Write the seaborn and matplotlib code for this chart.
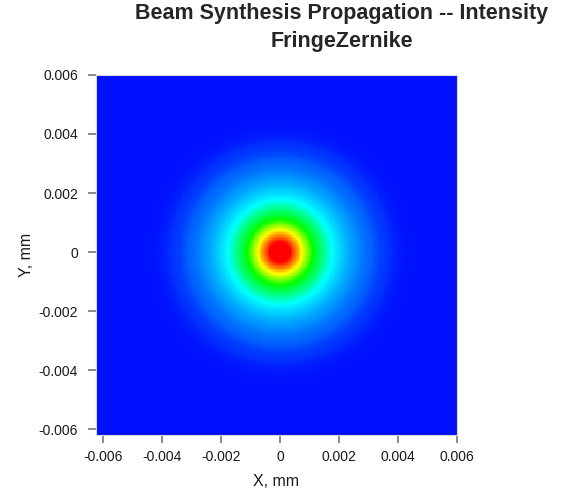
import numpy as np
import pandas as pd
import matplotlib
matplotlib.use("Agg")
import matplotlib.pyplot as plt
from matplotlib.colors import LinearSegmentedColormap
import seaborn as sns

# grid of the propagated field (mm)
x_min, x_max = -0.00624, 0.006
y_min, y_max = -0.0062, 0.006
n_cells = 256

# beam: centre and 1/e^2 radius (mm), estimated from the colour rings
beam_center = (0.0, 0.0)
beam_waist = 0.0021

tick_values = [-0.006, -0.004, -0.002, 0, 0.002, 0.004, 0.006]
tick_labels = ["-0.006", "-0.004", "-0.002", "0", "0.002", "0.004", "0.006"]

# colour stops of the intensity scale (relative intensity -> colour)
cmap_stops = [0.0, 0.0018, 0.011, 0.0455, 0.111, 0.231, 0.381, 0.567, 0.777, 0.889, 0.949, 1.0]
cmap_colors = ["#0010ff", "#0030ff", "#0060ff", "#0090ff", "#00c0ff", "#00ffff",
               "#00ff80", "#00ff00", "#ffff00", "#ff6600", "#ff0000", "#ff0000"]

sns.set_style("white")
plt.rcParams["font.family"] = ["Liberation Sans", "DejaVu Sans"]

xs = np.linspace(x_min, x_max, n_cells)
ys = np.linspace(y_max, y_min, n_cells)  # top row = largest y
X, Y = np.meshgrid(xs, ys)
R2 = (X - beam_center[0]) ** 2 + (Y - beam_center[1]) ** 2
intensity = np.exp(-2 * R2 / beam_waist ** 2)
df = pd.DataFrame(intensity, index=ys, columns=xs)

cmap = LinearSegmentedColormap.from_list("beam", list(zip(cmap_stops, cmap_colors)), N=16384)

fig = plt.figure(figsize=(5.61, 4.92), dpi=100)
ax = fig.add_axes([0.1711, 0.1159, 0.6435, 0.7317])
sns.heatmap(df, ax=ax, cmap=cmap, vmin=0, vmax=1, cbar=False,
            xticklabels=False, yticklabels=False, rasterized=True)

# map data values to heatmap cell coordinates
xpos = [(v - x_min) / (x_max - x_min) * n_cells for v in tick_values]
ypos = [(y_max - v) / (y_max - y_min) * n_cells for v in tick_values]
ax.set_xticks(xpos)
ax.set_xticklabels(tick_labels, rotation=0)
ax.set_yticks(ypos)
ax.set_yticklabels(tick_labels, rotation=0)
ax.tick_params(axis="both", which="major", bottom=True, left=True, length=6, width=1.4,
               color="#8a8a8a", labelsize=10, labelcolor="#1a1a1a", direction="out")
ax.tick_params(axis="y", pad=7)
ax.tick_params(axis="x", pad=5)

for side in ["top", "right", "left", "bottom"]:
    ax.spines[side].set_visible(True)
    ax.spines[side].set_color("#d8d8d8")
    ax.spines[side].set_linewidth(0.8)

ax.set_xlabel("X, mm", fontsize=11.5, color="#1a1a1a", labelpad=7)
ax.set_ylabel("Y, mm", fontsize=11.5, color="#1a1a1a", labelpad=3)

fig.text(0.6096, 0.994, "Beam Synthesis Propagation -- Intensity\nFringeZernike",
         ha="center", va="top", fontsize=15.5, fontweight="bold", linespacing=1.42)

plt.savefig("out.png", dpi=100)
